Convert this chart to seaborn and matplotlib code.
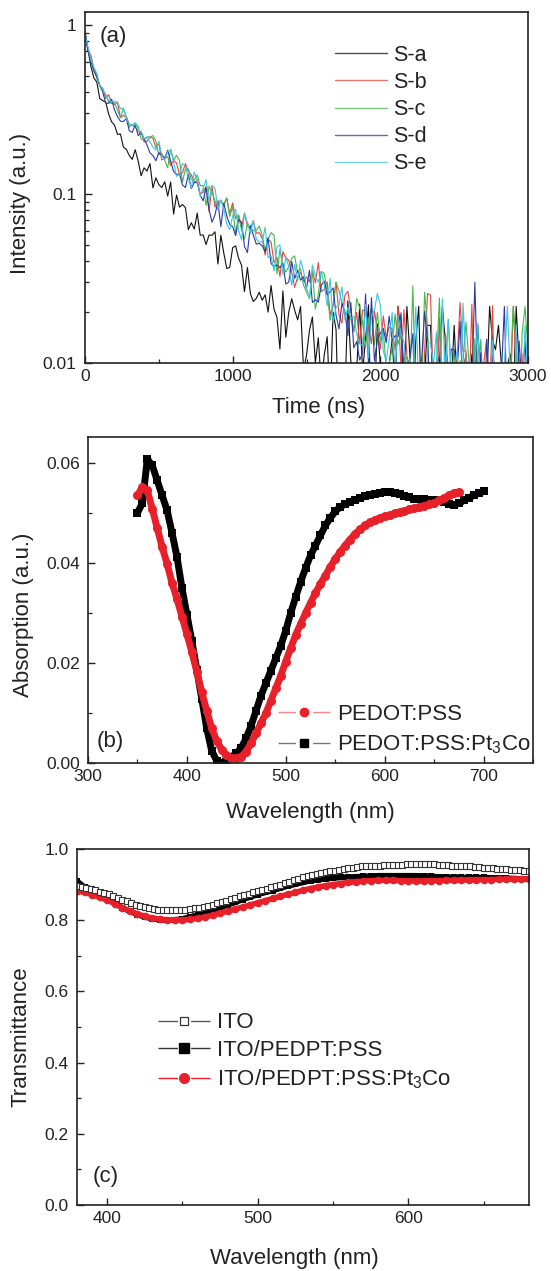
import numpy as np
import pandas as pd
import matplotlib
matplotlib.use("Agg")
import matplotlib.pyplot as plt
import matplotlib.ticker as mticker
from matplotlib.lines import Line2D
from matplotlib.legend_handler import HandlerTuple
import seaborn as sns

# ---------------- data : panel (a) time-resolved PL decay ----------------
# intensities in units of 1e-4 (a.u.), one value every 20 ns from 0 to 3000 ns
TIME_NS = list(range(0, 3001, 20))
INT_UNIT = 1e-4
S_A = [8500, 7110, 5680, 4850, 4580, 3660, 3560, 3490, 2970, 2670,
       2550, 2250, 2260, 1890, 1835, 1685, 1600, 1825, 1565, 1280,
       1425, 1365, 1510, 1085, 1245, 1135, 1090, 1180, 970, 1175,
       760, 985, 835, 865, 830, 615, 675, 620, 770, 570,
       572, 502, 571, 569, 597, 385, 569, 446, 362, 368,
       481, 493, 417, 379, 264, 367, 257, 231, 241, 262,
       235, 253, 200, 287, 208, 186, 121, 267, 142, 200,
       240, 205, 180, 216, 91, 111, 156, 187, 100, 141,
       74, 111, 143, 56, 200, 158, 36, 81, 64, 233,
       103, 89, 89, 223, 88, 140, 221, 32, 60, 170,
       98, 32, 46, 98, 137, 72, 216, 150, 72, 216,
       113, 45, 135, 216, 45, 86, 167, 167, 59, 32,
       97, 216, 135, 59, 72, 167, 72, 72, 86, 113,
       59, 113, 86, 167, 72, 59, 72, 216, 135, 120,
       167, 97, 72, 97, 113, 59, 216, 97, 45, 86,
       45]
S_B = [9180, 7180, 6590, 5490, 5100, 4320, 4220, 3670, 3860, 3460,
       3370, 3490, 2820, 2910, 2850, 2590, 2540, 2500, 2320, 2340,
       2030, 2040, 2170, 2130, 1880, 1980, 1585, 1630, 1655, 1470,
       1580, 1520, 1305, 1335, 1510, 1350, 1300, 1170, 1205, 1000,
       1025, 1105, 785, 1120, 835, 910, 900, 870, 945, 765,
       885, 715, 750, 635, 770, 645, 625, 695, 585, 590,
       545, 435, 540, 520, 392, 422, 325, 455, 420, 405,
       343, 280, 323, 344, 304, 323, 301, 352, 298, 392,
       264, 272, 302, 193, 219, 300, 193, 172, 251, 265,
       207, 153, 199, 130, 206, 201, 165, 130, 205, 153,
       121, 190, 141, 163, 160, 119, 217, 92, 207, 109,
       95, 42, 41, 90, 39, 118, 257, 252, 67, 51,
       187, 50, 149, 93, 49, 77, 103, 228, 118, 118,
       61, 223, 33, 88, 74, 99, 138, 60, 218, 32,
       32, 73, 72, 86, 59, 216, 97, 59, 113, 32,
       97]
S_C = [9000, 7180, 6400, 5490, 4800, 4410, 4100, 3900, 3490, 3420,
       3470, 3140, 2820, 3200, 2850, 2480, 2560, 2630, 2510, 2110,
       2080, 2170, 2170, 2210, 2050, 1700, 1740, 1580, 1425, 1835,
       1580, 1695, 1575, 1175, 1405, 1400, 1215, 1205, 1295, 1120,
       1120, 855, 1110, 1020, 910, 810, 920, 850, 945, 735,
       840, 575, 750, 610, 540, 675, 625, 605, 610, 645,
       570, 460, 540, 590, 570, 336, 470, 376, 345, 372,
       417, 430, 340, 361, 288, 263, 240, 352, 208, 255,
       348, 338, 264, 179, 219, 300, 268, 227, 194, 201,
       183, 153, 241, 212, 174, 123, 179, 210, 127, 200,
       135, 157, 91, 100, 122, 195, 129, 149, 100, 109,
       76, 286, 58, 73, 72, 262, 161, 37, 67, 97,
       242, 65, 94, 181, 78, 120, 33, 103, 102, 174,
       102, 33, 140, 74, 138, 60, 46, 60, 114, 86,
       86, 46, 59, 45, 86, 216, 135, 32, 150, 216,
       120]
S_D = [9080, 7030, 6080, 5320, 4950, 4360, 4020, 3440, 3430, 3630,
       3140, 2860, 2690, 2680, 2790, 2360, 2310, 2570, 2210, 2305,
       2120, 1945, 1750, 1685, 1570, 1755, 1690, 1630, 1810, 1560,
       1355, 1300, 1315, 1130, 1090, 1305, 1075, 1170, 1165, 985,
       910, 1090, 810, 680, 750, 900, 640, 880, 740, 660,
       640, 567, 705, 680, 488, 450, 648, 570, 505, 510,
       493, 455, 550, 387, 373, 380, 367, 389, 293, 301,
       398, 316, 353, 309, 323, 276, 353, 228, 237, 229,
       289, 305, 253, 263, 278, 192, 159, 226, 200, 145,
       228, 123, 134, 104, 114, 256, 96, 243, 103, 137,
       150, 160, 132, 189, 135, 145, 143, 198, 77, 93,
       107, 149, 41, 90, 105, 202, 134, 53, 36, 97,
       109, 95, 79, 64, 121, 120, 90, 176, 61, 47,
       75, 74, 300, 74, 115, 32, 138, 60, 114, 32,
       59, 86, 216, 45, 86, 45, 59, 135, 72, 135,
       59]
S_E = [8730, 7400, 6210, 5600, 5150, 4360, 4140, 3860, 3570, 3520,
       3540, 3490, 3190, 3200, 2760, 2590, 2540, 2630, 2350, 2340,
       2120, 2170, 2030, 1890, 1820, 2050, 1690, 1580, 1770, 1830,
       1535, 1270, 1305, 1510, 1455, 1240, 1085, 1345, 1205, 970,
       1075, 1215, 900, 1120, 1085, 810, 920, 815, 665, 615,
       740, 810, 610, 535, 770, 675, 580, 695, 540, 520,
       520, 635, 420, 430, 350, 485, 500, 335, 420, 372,
       288, 383, 305, 405, 350, 279, 240, 380, 330, 300,
       348, 290, 218, 317, 174, 213, 220, 282, 181, 213,
       183, 188, 149, 130, 127, 222, 107, 190, 205, 258,
       220, 118, 103, 137, 199, 85, 190, 149, 133, 88,
       106, 77, 215, 73, 89, 38, 134, 131, 98, 153,
       35, 240, 79, 181, 92, 91, 119, 33, 226, 102,
       102, 33, 100, 172, 60, 60, 74, 46, 137, 59,
       98, 73, 97, 216, 86, 32, 167, 45, 59, 167,
       86]
SAMPLES_A = ["S-a", "S-b", "S-c", "S-d", "S-e"]
SERIES_A = [S_A, S_B, S_C, S_D, S_E]
COLORS_A = ["#111111", "#e8453c", "#45b84a", "#2b3aa6", "#3fc4e4"]

# ---------------- data : panel (b) absorption ----------------
WL_PEDOT = list(range(350, 676, 5))
ABS_PEDOT = [0.0535, 0.0552, 0.0545, 0.0508, 0.0470, 0.0432, 0.0398, 0.0360, 0.0328, 0.0293,
             0.0258, 0.0222, 0.0183, 0.0142, 0.0105, 0.0070, 0.0045, 0.0027, 0.0016, 0.0010,
             0.0010, 0.0013, 0.0023, 0.0040, 0.0060, 0.0080, 0.0100, 0.0125, 0.0150, 0.0175,
             0.0203, 0.0230, 0.0256, 0.0278, 0.0300, 0.0320, 0.0340, 0.0358, 0.0375, 0.0392,
             0.0408, 0.0422, 0.0435, 0.0447, 0.0458, 0.0467, 0.0475, 0.0481, 0.0486, 0.0490,
             0.0493, 0.0496, 0.0499, 0.0501, 0.0504, 0.0507, 0.0510, 0.0512, 0.0514, 0.0517,
             0.0520, 0.0525, 0.0530, 0.0535, 0.0540, 0.0542]
WL_PT3CO = list(range(350, 701, 5))
ABS_PT3CO = [0.0500, 0.0520, 0.0608, 0.0595, 0.0565, 0.0535, 0.0505, 0.0460, 0.0412, 0.0350,
             0.0297, 0.0244, 0.0187, 0.0129, 0.0070, 0.0025, 0.0005, 0.0000, 0.0002, 0.0012,
             0.0020, 0.0030, 0.0050, 0.0075, 0.0105, 0.0135, 0.0160, 0.0185, 0.0210, 0.0235,
             0.0265, 0.0300, 0.0332, 0.0362, 0.0390, 0.0415, 0.0435, 0.0455, 0.0475, 0.0490,
             0.0503, 0.0512, 0.0518, 0.0522, 0.0526, 0.0530, 0.0533, 0.0536, 0.0538, 0.0540,
             0.0541, 0.0542, 0.0540, 0.0537, 0.0534, 0.0531, 0.0528, 0.0527, 0.0527, 0.0526,
             0.0525, 0.0524, 0.0522, 0.0518, 0.0516, 0.0519, 0.0525, 0.0530, 0.0535, 0.0540,
             0.0543]

# ---------------- data : panel (c) transmittance ----------------
WL_ITO = list(range(380, 681, 3))
T_ITO = [0.897, 0.893, 0.890, 0.887, 0.884, 0.880, 0.877, 0.873, 0.868, 0.863,
         0.858, 0.853, 0.848, 0.844, 0.840, 0.836, 0.833, 0.831, 0.830, 0.830,
         0.829, 0.828, 0.828, 0.829, 0.830, 0.831, 0.833, 0.835, 0.838, 0.841,
         0.844, 0.848, 0.851, 0.855, 0.859, 0.863, 0.867, 0.871, 0.875, 0.878,
         0.882, 0.885, 0.888, 0.892, 0.896, 0.900, 0.904, 0.908, 0.913, 0.916,
         0.920, 0.924, 0.927, 0.930, 0.933, 0.935, 0.937, 0.939, 0.941, 0.944,
         0.946, 0.948, 0.949, 0.951, 0.951, 0.952, 0.953, 0.953, 0.954, 0.954,
         0.955, 0.956, 0.956, 0.957, 0.957, 0.958, 0.958, 0.958, 0.957, 0.957,
         0.956, 0.955, 0.954, 0.953, 0.953, 0.952, 0.951, 0.951, 0.950, 0.949,
         0.948, 0.947, 0.947, 0.945, 0.944, 0.943, 0.942, 0.941, 0.940, 0.938,
         0.937]
WL_T = list(range(380, 681, 5))
T_PSS = [0.910, 0.893, 0.880, 0.870, 0.860, 0.848, 0.835, 0.825, 0.816, 0.809,
         0.804, 0.801, 0.800, 0.801, 0.804, 0.809, 0.815, 0.820, 0.827, 0.835,
         0.843, 0.850, 0.858, 0.865, 0.872, 0.878, 0.883, 0.890, 0.896, 0.901,
         0.906, 0.911, 0.914, 0.916, 0.918, 0.920, 0.921, 0.922, 0.923, 0.924,
         0.925, 0.925, 0.925, 0.925, 0.925, 0.925, 0.924, 0.923, 0.922, 0.921,
         0.921, 0.920, 0.920, 0.920, 0.920, 0.919, 0.919, 0.918, 0.917, 0.916,
         0.915]
T_PT3CO = [0.882, 0.878, 0.872, 0.864, 0.857, 0.846, 0.835, 0.826, 0.818, 0.811,
           0.806, 0.803, 0.801, 0.801, 0.801, 0.802, 0.805, 0.809, 0.814, 0.820,
           0.825, 0.831, 0.837, 0.843, 0.849, 0.855, 0.861, 0.867, 0.873, 0.878,
           0.884, 0.889, 0.893, 0.897, 0.900, 0.903, 0.906, 0.908, 0.910, 0.911,
           0.912, 0.912, 0.912, 0.911, 0.910, 0.910, 0.910, 0.911, 0.911, 0.912,
           0.912, 0.913, 0.913, 0.914, 0.914, 0.914, 0.915, 0.915, 0.916, 0.916,
           0.916]

RED = "#e8202a"
INK = "#222222"

# ---------------- style ----------------
sns.set_theme(style="ticks")
plt.rcParams["font.family"] = ["Liberation Sans", "DejaVu Sans"]
plt.rcParams.update({
    "mathtext.fontset": "custom",
    "mathtext.rm": "Liberation Sans",
    "mathtext.it": "Liberation Sans",
    "mathtext.default": "regular",
    "axes.linewidth": 1.2,
    "axes.edgecolor": INK,
    "axes.labelcolor": INK,
    "text.color": INK,
    "xtick.color": INK,
    "ytick.color": INK,
    "xtick.direction": "in",
    "ytick.direction": "in",
    "xtick.major.size": 5,
    "ytick.major.size": 5,
    "xtick.minor.size": 3,
    "ytick.minor.size": 3,
    "xtick.major.width": 1.0,
    "ytick.major.width": 1.0,
    "xtick.minor.width": 0.9,
    "ytick.minor.width": 0.9,
    "xtick.labelsize": 12.5,
    "ytick.labelsize": 12.5,
    "xtick.major.pad": 4,
    "ytick.major.pad": 6,
    "axes.labelsize": 16,
    "lines.solid_joinstyle": "round",
})

W, H = 551, 1271
fig = plt.figure(figsize=(W / 100, H / 100), dpi=100)


def box(left, top, right, bottom):
    return [left / W, (H - bottom) / H, (right - left) / W, (bottom - top) / H]


axA = fig.add_axes(box(85, 12, 528, 363))
axB = fig.add_axes(box(88, 437, 533, 763))
axC = fig.add_axes(box(77, 849, 529, 1205))

# ---------------- panel (a) ----------------
dfA = pd.DataFrame({
    "time": np.concatenate([TIME_NS[:len(s)] for s in SERIES_A]),
    "intensity": np.concatenate([np.array(s, float) * INT_UNIT for s in SERIES_A]),
    "sample": np.concatenate([[n] * len(s) for n, s in zip(SAMPLES_A, SERIES_A)]),
})
sns.lineplot(data=dfA, x="time", y="intensity", hue="sample", hue_order=SAMPLES_A,
             palette=COLORS_A, linewidth=0.8, estimator=None, sort=False,
             legend=False, ax=axA)
axA.set_yscale("log")
axA.set_xlim(0, 3000)
axA.set_ylim(0.01, 1.19)
axA.xaxis.set_major_locator(mticker.FixedLocator([0, 1000, 2000, 3000]))
axA.xaxis.set_minor_locator(mticker.FixedLocator([500, 1500, 2500]))
axA.yaxis.set_major_locator(mticker.FixedLocator([0.01, 0.1, 1]))
axA.yaxis.set_major_formatter(mticker.FixedFormatter(["0.01", "0.1", "1"]))
axA.yaxis.set_minor_locator(mticker.LogLocator(base=10, subs=np.arange(2, 10)))
axA.yaxis.set_minor_formatter(mticker.NullFormatter())
axA.set_xlabel("Time (ns)")
axA.set_ylabel("Intensity (a.u.)")
handlesA = [Line2D([], [], color=c, lw=1.0, alpha=0.75) for c in COLORS_A]
axA.legend(handlesA, SAMPLES_A, loc="upper left", bbox_to_anchor=(0.564, 0.906),
           frameon=False, fontsize=15.5, handlelength=2.4, handletextpad=0.3,
           labelspacing=0.28, borderpad=0, borderaxespad=0)
axA.text(0.034, 0.929, "(a)", transform=axA.transAxes, fontsize=16, ha="left", va="center")

# ---------------- panel (b) ----------------
sns.lineplot(x=WL_PT3CO, y=ABS_PT3CO, color="black", marker="s", markersize=6,
             markeredgewidth=0, linewidth=5, estimator=None, ax=axB)
sns.lineplot(x=WL_PEDOT, y=ABS_PEDOT, color=RED, marker="o", markersize=6.5,
             markeredgewidth=0, linewidth=5, estimator=None, ax=axB)
axB.set_xlim(300, 750)
axB.set_ylim(0, 0.0652)
axB.xaxis.set_major_locator(mticker.MultipleLocator(100))
axB.xaxis.set_minor_locator(mticker.MultipleLocator(50))
axB.yaxis.set_major_locator(mticker.MultipleLocator(0.02))
axB.yaxis.set_minor_locator(mticker.MultipleLocator(0.01))
axB.yaxis.set_major_formatter(mticker.FormatStrFormatter("%.2f"))
axB.set_xlabel("Wavelength (nm)")
axB.set_ylabel("Absorption (a.u.)")
dashB = (0, (12.5, 12.5, 14))
tuple_handler = {tuple: HandlerTuple(ndivide=1, pad=0)}
hB1 = (Line2D([], [], color="#f08a8a", lw=1.0, ls=dashB),
       Line2D([], [], ls="none", marker="o", ms=6, mfc=RED, mec=RED))
hB2 = (Line2D([], [], color="#777777", lw=1.0, ls=dashB),
       Line2D([], [], ls="none", marker="s", ms=5.5, mfc="black", mec="black"))
axB.legend([hB1, hB2], ["PEDOT:PSS", "PEDOT:PSS:Pt$_3$Co"],
           handler_map=tuple_handler,
           loc="upper left", bbox_to_anchor=(0.427, 0.181), frameon=False,
           fontsize=16, handlelength=2.34, handletextpad=0.3, labelspacing=0.38,
           borderpad=0, borderaxespad=0)
axB.text(0.02, 0.065, "(b)", transform=axB.transAxes, fontsize=16, ha="left", va="center")

# ---------------- panel (c) ----------------
sns.lineplot(x=WL_T, y=T_PSS, color="black", marker="s", markersize=5,
             markeredgewidth=0, linewidth=4, estimator=None, ax=axC)
sns.lineplot(x=WL_T, y=T_PT3CO, color=RED, marker="o", markersize=5.5,
             markeredgewidth=0, linewidth=4, estimator=None, ax=axC)
sns.lineplot(x=WL_ITO, y=T_ITO, color="#555555", marker="s", markersize=5,
             markerfacecolor="white", markeredgecolor="#333333", markeredgewidth=0.8,
             linewidth=0.8, estimator=None, ax=axC)
axC.set_xlim(380, 680)
axC.set_ylim(0, 1.0)
axC.xaxis.set_major_locator(mticker.MultipleLocator(100))
axC.xaxis.set_minor_locator(mticker.MultipleLocator(50))
axC.yaxis.set_major_locator(mticker.MultipleLocator(0.2))
axC.yaxis.set_minor_locator(mticker.MultipleLocator(0.1))
axC.yaxis.set_major_formatter(mticker.FormatStrFormatter("%.1f"))
axC.set_xlabel("Wavelength (nm)")
axC.set_ylabel("Transmittance")
dashC = (0, (14, 9.5, 14))
hC1 = (Line2D([], [], color="#555555", lw=1.0, ls=dashC),
       Line2D([], [], ls="none", marker="s", ms=6, mfc="white", mec="#333333", mew=0.9))
hC2 = (Line2D([], [], color="#333333", lw=1.0, ls=dashC),
       Line2D([], [], ls="none", marker="s", ms=6.5, mfc="black", mec="black"))
hC3 = (Line2D([], [], color=RED, lw=1.0, ls=dashC),
       Line2D([], [], ls="none", marker="o", ms=7, mfc=RED, mec=RED))
axC.legend([hC1, hC2, hC3], ["ITO", "ITO/PEDPT:PSS", "ITO/PEDPT:PSS:Pt$_3$Co"],
           handler_map=tuple_handler,
           loc="upper left", bbox_to_anchor=(0.179, 0.541), frameon=False,
           fontsize=16, handlelength=2.34, handletextpad=0.3, labelspacing=0.29,
           borderpad=0, borderaxespad=0)
axC.text(0.035, 0.079, "(c)", transform=axC.transAxes, fontsize=16, ha="left", va="center")

# ---------------- common axis cosmetics ----------------
label_pos = {
    axA: ((0.528, -0.128), (-0.1445, 0.456)),
    axB: ((0.50, -0.153), (-0.146, 0.454)),
    axC: ((0.48, -0.149), (-0.124, 0.472)),
}
for ax, (xl, yl) in label_pos.items():
    ax.tick_params(which="both", top=False, right=False)
    for sp in ax.spines.values():
        sp.set_visible(True)
        sp.set_linewidth(1.2)
        sp.set_color(INK)
    ax.xaxis.set_label_coords(*xl)
    ax.yaxis.set_label_coords(*yl)
    ax.xaxis.label.set_verticalalignment("center")
    ax.yaxis.label.set_verticalalignment("center")

fig.savefig("out.png", dpi=100, facecolor="white")
